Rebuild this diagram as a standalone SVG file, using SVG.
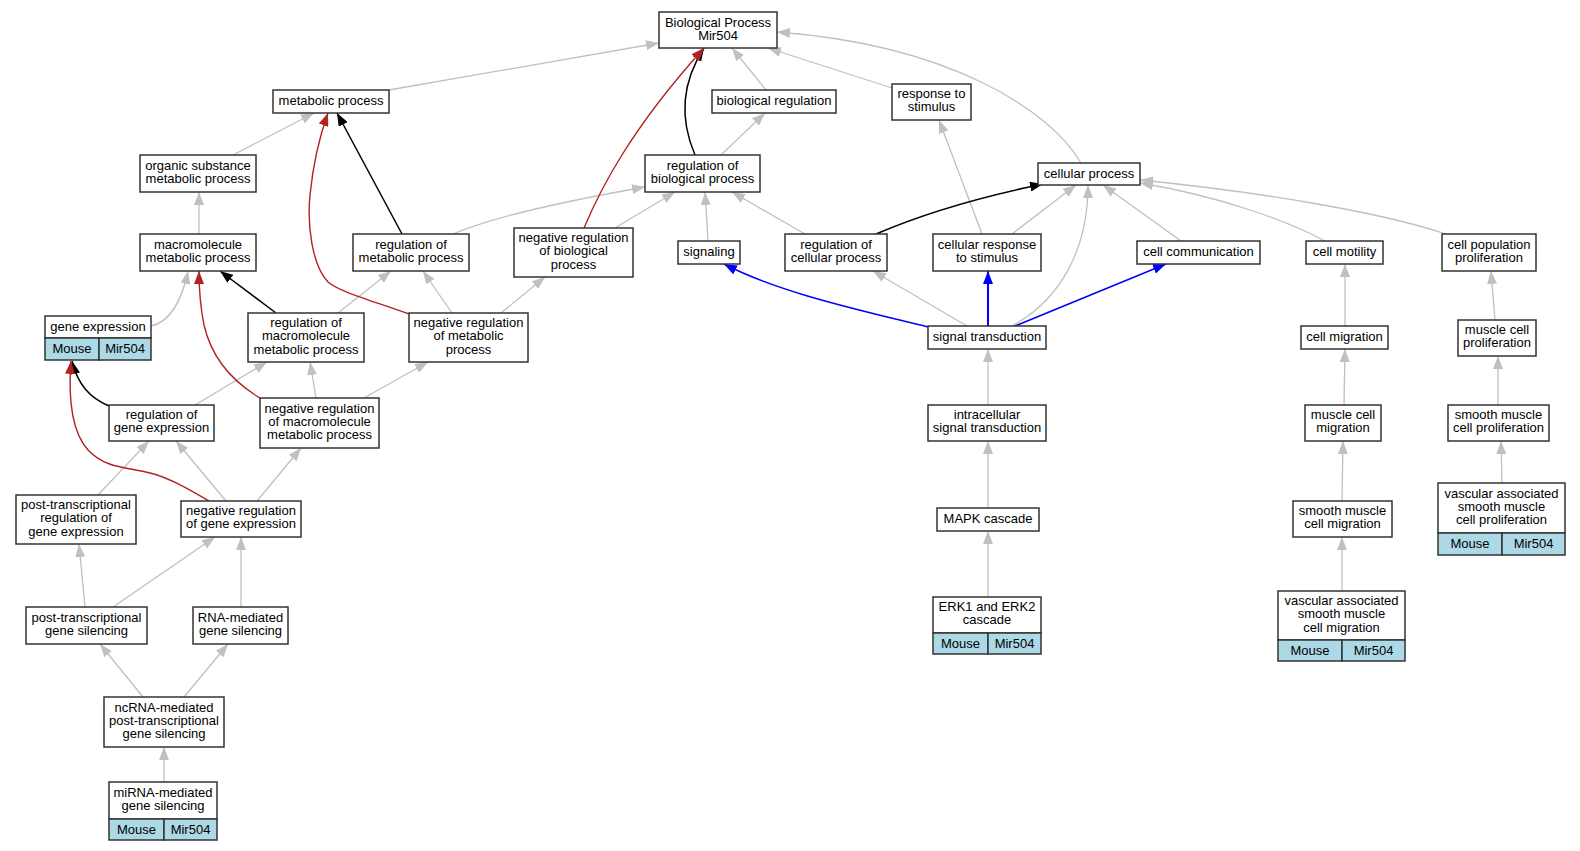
<svg xmlns="http://www.w3.org/2000/svg" width="1580" height="851" viewBox="0 0 1580 851">
<style>
.n rect{fill:#fff;stroke:#333;stroke-width:1.5}
.n rect.m{fill:#add8e6}
.n line{stroke:#333;stroke-width:1.5}
text{font-family:"Liberation Sans",Arial,sans-serif;font-size:13px;text-anchor:middle;fill:#000}
#edges path{fill:none}
.e{stroke:#c0c0c0;stroke-width:1.3;marker-end:url(#ag)}
.k{stroke:#000;stroke-width:1.5;marker-end:url(#ak)}
.r{stroke:#b22222;stroke-width:1.4;marker-end:url(#ar)}
.b{stroke:#0000ff;stroke-width:1.5;marker-end:url(#ab)}
</style>
<defs>
<marker id="ag" markerUnits="userSpaceOnUse" viewBox="0 0 13 10" markerWidth="13" markerHeight="10" refX="13" refY="5" orient="auto"><path d="M0,0L13,5L0,10Z" fill="#c0c0c0"/></marker>
<marker id="ak" markerUnits="userSpaceOnUse" viewBox="0 0 13 10" markerWidth="13" markerHeight="10" refX="13" refY="5" orient="auto"><path d="M0,0L13,5L0,10Z" fill="#000"/></marker>
<marker id="ar" markerUnits="userSpaceOnUse" viewBox="0 0 13 10" markerWidth="13" markerHeight="10" refX="13" refY="5" orient="auto"><path d="M0,0L13,5L0,10Z" fill="#b22222"/></marker>
<marker id="ab" markerUnits="userSpaceOnUse" viewBox="0 0 13 10" markerWidth="13" markerHeight="10" refX="13" refY="5" orient="auto"><path d="M0,0L13,5L0,10Z" fill="#0000ff"/></marker>
</defs>
<rect width="1580" height="851" fill="#fff"/>
<g id="edges">
<path class="e" d="M389,90L659,43"/>
<path class="e" d="M766,90L732,48"/>
<path class="e" d="M892,88L768,48"/>
<path class="e" d="M1081,163C1050,110 950,45 777,32"/>
<path class="e" d="M233,155L314,113"/>
<path class="e" d="M199,234L199,192"/>
<path class="e" d="M721,155L765,113"/>
<path class="e" d="M615,228L675,192"/>
<path class="e" d="M453,234C490,218 560,202 645,187"/>
<path class="e" d="M708,241L705,192"/>
<path class="e" d="M805,234L732,192"/>
<path class="e" d="M982,234L939,120"/>
<path class="e" d="M1012,234L1076,185"/>
<path class="e" d="M1012,326C1060,300 1088,250 1088,185"/>
<path class="e" d="M1181,241L1103,185"/>
<path class="e" d="M1325,241C1290,222 1220,196 1140,183"/>
<path class="e" d="M1446,234C1380,212 1260,192 1140,180"/>
<path class="e" d="M1345,326L1345,264"/>
<path class="e" d="M1495,320L1491,271"/>
<path class="e" d="M1344,405L1345,349"/>
<path class="e" d="M1498,405L1498,356"/>
<path class="e" d="M1342,501L1343,441"/>
<path class="e" d="M1342,591L1342,537"/>
<path class="e" d="M1502,483L1501,441"/>
<path class="e" d="M988,405L988,349"/>
<path class="e" d="M988,508L988,441"/>
<path class="e" d="M988,597L988,531"/>
<path class="e" d="M967,326L873,271"/>
<path class="e" d="M151,326C170,322 182,300 188,271"/>
<path class="e" d="M338,313L391,271"/>
<path class="e" d="M452,313L423,271"/>
<path class="e" d="M501,313L545,277"/>
<path class="e" d="M195,405L267,362"/>
<path class="e" d="M316,398L310,362"/>
<path class="e" d="M364,398L428,362"/>
<path class="e" d="M98,495L149,441"/>
<path class="e" d="M226,501L176,441"/>
<path class="e" d="M257,501L301,448"/>
<path class="e" d="M85,607L79,544"/>
<path class="e" d="M113,607L215,537"/>
<path class="e" d="M241,607L241,537"/>
<path class="e" d="M143,697L100,644"/>
<path class="e" d="M184,697L228,644"/>
<path class="e" d="M164,782L164,747"/>
<path class="k" d="M695,155C680,120 680,85 704,48"/>
<path class="k" d="M402,234L337,113"/>
<path class="k" d="M276,313L220,271"/>
<path class="k" d="M109,406C90,398 78,385 72,361"/>
<path class="k" d="M876,234C920,215 980,197 1043,184"/>
<path class="r" d="M584,228C600,190 630,130 704,48"/>
<path class="r" d="M409,314C370,300 340,292 328,282C312,265 307,225 310,195C313,165 320,135 328,113"/>
<path class="r" d="M260,398C235,383 212,360 204,325C200,305 199,290 199,271"/>
<path class="r" d="M209,501C190,490 170,478 150,473C125,467 105,468 88,450C72,432 68,400 71,361"/>
<path class="b" d="M928,327C860,310 780,293 724,264"/>
<path class="b" style="stroke-width:2" d="M988,326L988,271"/>
<path class="b" d="M1015,326L1166,264"/>
</g>
<g id="bp" class="n"><rect x="659" y="12" width="118" height="36"/><text x="718" y="27">Biological Process</text><text x="718" y="40">Mir504</text></g>
<g id="metabolic" class="n"><rect x="273" y="90" width="116" height="23"/><text x="331" y="105">metabolic process</text></g>
<g id="bioreg" class="n"><rect x="712" y="90" width="124" height="23"/><text x="774" y="105">biological regulation</text></g>
<g id="response" class="n"><rect x="892" y="84" width="79" height="36"/><text x="931.5" y="98">response to</text><text x="931.5" y="111">stimulus</text></g>
<g id="organic" class="n"><rect x="140" y="155" width="116" height="37"/><text x="198" y="169.5">organic substance</text><text x="198" y="182.5">metabolic process</text></g>
<g id="regbio" class="n"><rect x="645" y="155" width="115" height="37"/><text x="702.5" y="169.5">regulation of</text><text x="702.5" y="182.5">biological process</text></g>
<g id="cellproc" class="n"><rect x="1038" y="163" width="102" height="22"/><text x="1089" y="178">cellular process</text></g>
<g id="macromol" class="n"><rect x="140" y="234" width="116" height="37"/><text x="198" y="248.5">macromolecule</text><text x="198" y="261.5">metabolic process</text></g>
<g id="regmet" class="n"><rect x="353" y="234" width="116" height="37"/><text x="411" y="248.5">regulation of</text><text x="411" y="261.5">metabolic process</text></g>
<g id="negregbio" class="n"><rect x="514" y="228" width="119" height="49"/><text x="573.5" y="242">negative regulation</text><text x="573.5" y="255.3">of biological</text><text x="573.5" y="268.6">process</text></g>
<g id="signaling" class="n"><rect x="678" y="241" width="62" height="23"/><text x="709" y="256">signaling</text></g>
<g id="regcell" class="n"><rect x="785" y="234" width="102" height="37"/><text x="836" y="248.5">regulation of</text><text x="836" y="261.5">cellular process</text></g>
<g id="cellresp" class="n"><rect x="933" y="234" width="108" height="37"/><text x="987" y="248.5">cellular response</text><text x="987" y="261.5">to stimulus</text></g>
<g id="cellcomm" class="n"><rect x="1137" y="241" width="123" height="23"/><text x="1198.5" y="256">cell communication</text></g>
<g id="motility" class="n"><rect x="1306" y="241" width="77" height="23"/><text x="1344.5" y="256">cell motility</text></g>
<g id="popprolif" class="n"><rect x="1442" y="234" width="94" height="37"/><text x="1489" y="248.5">cell population</text><text x="1489" y="261.5">proliferation</text></g>
<g id="geneexpr" class="n"><rect x="45" y="316" width="106" height="22"/><rect class="m" x="45" y="338" width="54" height="22"/><rect class="m" x="99" y="338" width="52" height="22"/><text x="98" y="331">gene expression</text><text x="72" y="353">Mouse</text><text x="125" y="353">Mir504</text></g>
<g id="regmacro" class="n"><rect x="248" y="313" width="116" height="49"/><text x="306" y="327">regulation of</text><text x="306" y="340.3">macromolecule</text><text x="306" y="353.6">metabolic process</text></g>
<g id="negregmet" class="n"><rect x="409" y="313" width="119" height="49"/><text x="468.5" y="327">negative regulation</text><text x="468.5" y="340.3">of metabolic</text><text x="468.5" y="353.6">process</text></g>
<g id="sigtrans" class="n"><rect x="928" y="326" width="118" height="23"/><text x="987" y="341">signal transduction</text></g>
<g id="cellmigr" class="n"><rect x="1301" y="326" width="87" height="23"/><text x="1344.5" y="341">cell migration</text></g>
<g id="mcprolif" class="n"><rect x="1458" y="320" width="78" height="36"/><text x="1497" y="334">muscle cell</text><text x="1497" y="347">proliferation</text></g>
<g id="reggene" class="n"><rect x="109" y="405" width="105" height="36"/><text x="161.5" y="419">regulation of</text><text x="161.5" y="432">gene expression</text></g>
<g id="negregmacro" class="n"><rect x="260" y="398" width="119" height="50"/><text x="319.5" y="412.5">negative regulation</text><text x="319.5" y="425.8">of macromolecule</text><text x="319.5" y="439.1">metabolic process</text></g>
<g id="intracell" class="n"><rect x="928" y="405" width="118" height="36"/><text x="987" y="419">intracellular</text><text x="987" y="432">signal transduction</text></g>
<g id="mcmigr" class="n"><rect x="1305" y="405" width="76" height="36"/><text x="1343" y="419">muscle cell</text><text x="1343" y="432">migration</text></g>
<g id="smcprolif" class="n"><rect x="1448" y="405" width="101" height="36"/><text x="1498.5" y="419">smooth muscle</text><text x="1498.5" y="432">cell proliferation</text></g>
<g id="ptreg" class="n"><rect x="16" y="495" width="120" height="49"/><text x="76" y="509">post-transcriptional</text><text x="76" y="522.3">regulation of</text><text x="76" y="535.6">gene expression</text></g>
<g id="negreggene" class="n"><rect x="181" y="501" width="120" height="36"/><text x="241" y="515">negative regulation</text><text x="241" y="528">of gene expression</text></g>
<g id="mapk" class="n"><rect x="937" y="508" width="102" height="23"/><text x="988" y="523">MAPK cascade</text></g>
<g id="smcmigr" class="n"><rect x="1293" y="501" width="99" height="36"/><text x="1342.5" y="515">smooth muscle</text><text x="1342.5" y="528">cell migration</text></g>
<g id="vasprolif" class="n"><rect x="1438" y="483" width="127" height="50"/><rect class="m" x="1438" y="533" width="64" height="22"/><rect class="m" x="1502" y="533" width="63" height="22"/><text x="1501.5" y="497.5">vascular associated</text><text x="1501.5" y="510.8">smooth muscle</text><text x="1501.5" y="524.1">cell proliferation</text><text x="1470" y="548">Mouse</text><text x="1533.5" y="548">Mir504</text></g>
<g id="erk" class="n"><rect x="933" y="597" width="108" height="36"/><rect class="m" x="933" y="633" width="55" height="21"/><rect class="m" x="988" y="633" width="53" height="21"/><text x="987" y="611">ERK1 and ERK2</text><text x="987" y="624">cascade</text><text x="960.5" y="647.5">Mouse</text><text x="1014.5" y="647.5">Mir504</text></g>
<g id="vasmigr" class="n"><rect x="1278" y="591" width="127" height="49"/><rect class="m" x="1278" y="640" width="64" height="21"/><rect class="m" x="1342" y="640" width="63" height="21"/><text x="1341.5" y="605">vascular associated</text><text x="1341.5" y="618.3">smooth muscle</text><text x="1341.5" y="631.6">cell migration</text><text x="1310" y="654.5">Mouse</text><text x="1373.5" y="654.5">Mir504</text></g>
<g id="ptgs" class="n"><rect x="26" y="607" width="121" height="37"/><text x="86.5" y="621.5">post-transcriptional</text><text x="86.5" y="634.5">gene silencing</text></g>
<g id="rnamed" class="n"><rect x="193" y="607" width="95" height="37"/><text x="240.5" y="621.5">RNA-mediated</text><text x="240.5" y="634.5">gene silencing</text></g>
<g id="ncrna" class="n"><rect x="104" y="697" width="120" height="50"/><text x="164" y="711.5">ncRNA-mediated</text><text x="164" y="724.8">post-transcriptional</text><text x="164" y="738.1">gene silencing</text></g>
<g id="mirna" class="n"><rect x="109" y="782" width="108" height="37"/><rect class="m" x="109" y="819" width="55" height="21"/><rect class="m" x="164" y="819" width="53" height="21"/><text x="163" y="796.5">miRNA-mediated</text><text x="163" y="809.5">gene silencing</text><text x="136.5" y="833.5">Mouse</text><text x="190.5" y="833.5">Mir504</text></g>
</svg>
